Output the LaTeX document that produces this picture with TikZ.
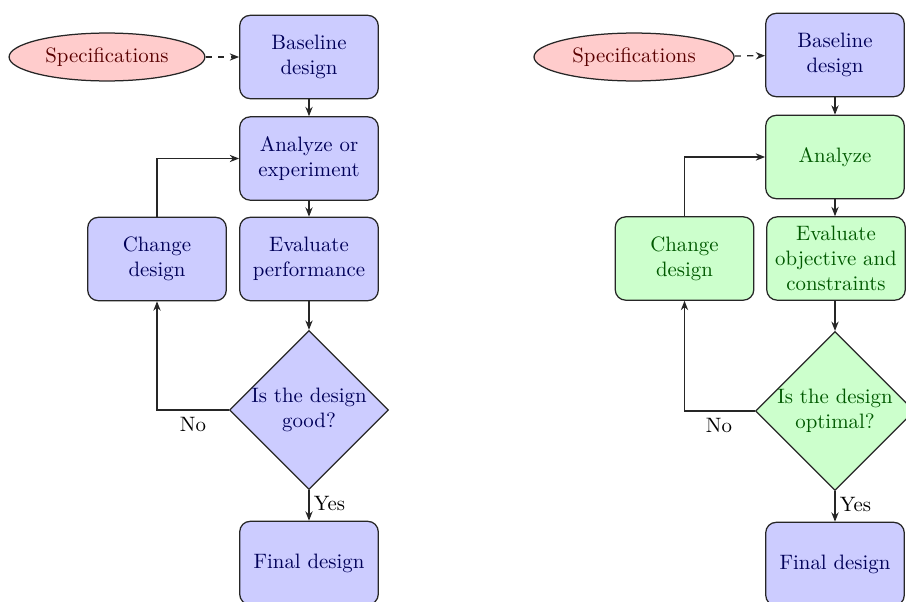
\documentclass[tikz,border=0pt]{standalone}
\usetikzlibrary{shapes.geometric,arrows.meta}
\begin{document}
\begin{tikzpicture}[x=0.48pt,y=-0.48pt,
  bbox/.style={rectangle, rounded corners=5pt, draw=black!85, line width=0.6pt,
    minimum width=66.5pt, minimum height=40pt, align=center, inner sep=1pt},
  bluebox/.style={bbox, fill=blue!20, text=blue!35!black},
  greenbox/.style={bbox, fill=green!20, text=green!35!black},
  specell/.style={ellipse, draw=black!85, line width=0.6pt, fill=red!20, text=red!35!black,
    minimum width=94pt, minimum height=23pt, inner sep=0pt},
  decbase/.style={diamond, draw=black!85, line width=0.6pt, minimum width=75pt,
    minimum height=75pt, inner sep=0pt, align=center},
  bluedec/.style={decbase, fill=blue!20, text=blue!35!black},
  greendec/.style={decbase, fill=green!20, text=green!35!black},
  arr/.style={-{Stealth[length=4.5pt,width=3.5pt]}, line width=0.6pt, black!85},
  darr/.style={arr, dashed},
  lbl/.style={font=\normalsize, text=black}
]
\useasboundingbox (0,0) rectangle (906,601);

% ---- left diagram ----
\node[specell] (spec1) at (107,57) {Specifications};
\node[bluebox] (base1) at (309,57) {Baseline\\design};
\node[bluebox] (an1) at (309,158.5) {Analyze or\\experiment};
\node[bluebox] (ch1) at (157,259) {Change\\design};
\node[bluebox] (ev1) at (309,259) {Evaluate\\performance};
\node[bluedec] (dia1) at (309,410) {Is the design\\good?};
\node[bluebox] (fin1) at (309,563) {Final design};
\coordinate (c1a) at (157,410);
\coordinate (c1b) at (157,158.5);

\draw[darr] (spec1) -- (base1);
\draw[arr] (base1) -- (an1);
\draw[arr] (an1) -- (ev1);
\draw[arr] (ev1) -- (dia1);
\draw[arr] (dia1) -- node[lbl, right, pos=0.45, inner sep=2pt] {Yes} (fin1);
\draw[arr] (dia1.west) -- (c1a) -- (ch1.south);
\node[lbl] (no1) at (193,424) {No};
\draw[arr] (ch1.north) -- (c1b) -- (an1.west);

% ---- right diagram ----
\node[specell, minimum width=96pt] (spec2) at (634,57) {Specifications};
\node[bluebox] (base2) at (835,55) {Baseline\\design};
\node[greenbox] (an2) at (835,157) {Analyze};
\node[greenbox] (ch2) at (684.5,258.5) {Change\\design};
\node[greenbox, inner sep=0.5pt] (ev2) at (836,258.5) {Evaluate\\objective and\\constraints};
\node[greendec] (dia2) at (835,411) {Is the design\\optimal?};
\node[bluebox] (fin2) at (835,564) {Final design};
\coordinate (c2a) at (684.5,411);
\coordinate (c2b) at (684.5,157);

\draw[darr] (spec2) -- (base2);
\draw[arr] (base2) -- (an2);
\draw[arr] (an2) -- (an2 |- ev2.north);
\draw[arr] (ev2.south -| dia2) -- (dia2);
\draw[arr] (dia2) -- node[lbl, right, pos=0.45, inner sep=2pt] {Yes} (fin2);
\draw[arr] (dia2.west) -- (c2a) -- (ch2.south);
\node[lbl] (no2) at (719,425) {No};
\draw[arr] (ch2.north) -- (c2b) -- (an2.west);
\end{tikzpicture}
\end{document}
